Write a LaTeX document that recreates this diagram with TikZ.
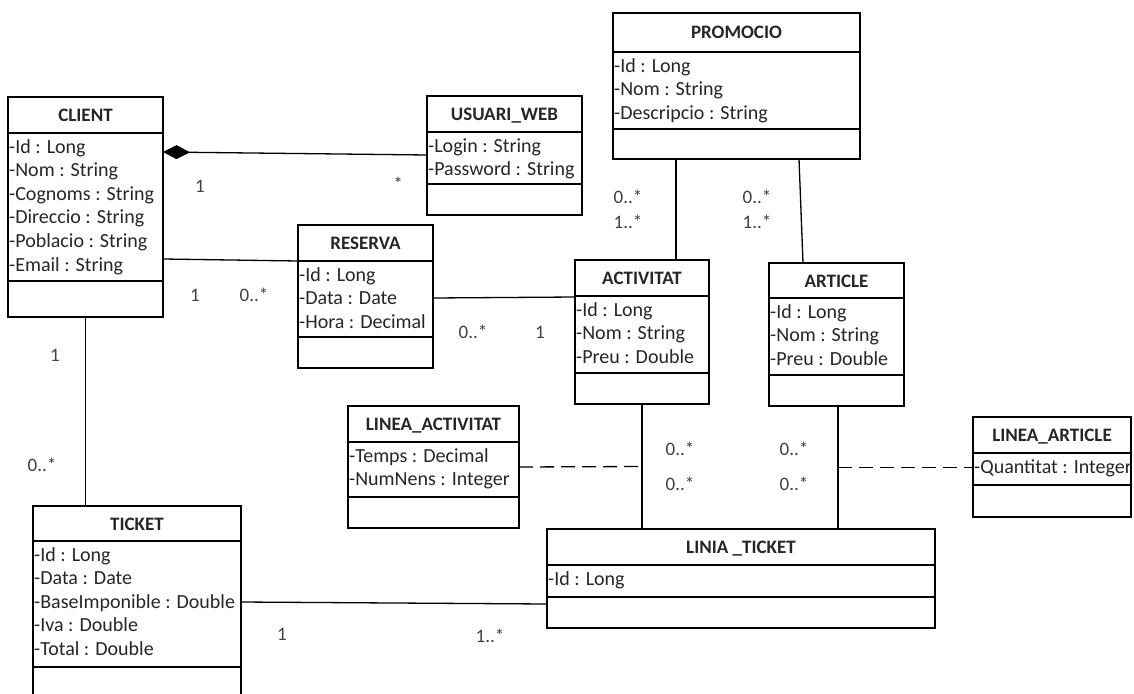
\documentclass[tikz,border=0pt]{standalone}
\usepackage{fontspec}
\setmainfont{Carlito}
\usetikzlibrary{arrows.meta,calc}
\tikzset{
  classbox/.style={draw, line width=1.4pt, inner sep=0pt, outer sep=0pt, anchor=north west},
  sepline/.style={line width=1.4pt},
  titletext/.style={font=\fontsize{19}{22}\selectfont\bfseries, inner sep=0pt, text height=13pt, text depth=0pt, text=black!85},
  attr/.style={font=\fontsize{20}{24}\selectfont, inner xsep=1pt, inner ysep=0pt, anchor=west, text height=14pt, text depth=4pt, text=black!85},
  assoc/.style={line width=1.3pt},
  mult/.style={font=\fontsize{19}{22}\selectfont, inner sep=0pt, text height=13pt, text depth=0pt, text=black!75},
  dashedlink/.style={line width=1.3pt, dash pattern=on 14pt off 7pt},
}
\newcommand{\umlclass}[9]{%
  \node[classbox, minimum width=#4pt-#2pt, minimum height=#5pt-#3pt] (#1) at (#2,#3) {};
  \draw[sepline] (#2,#6) -- (#4,#6);
  \draw[sepline] (#2,#7) -- (#4,#7);
  \node[titletext] (#1-title) at ({(#2+#4)/2},{(#3+#6)/2}) {#8};
  \foreach \a [count=\i] in {#9} {\node[attr] (#1-a\i) at (#2,{#6+15+(\i-1)*23.6}) {\a};}
}
\begin{document}
\begin{tikzpicture}[x=1pt,y=-1pt]
\useasboundingbox (0,0) rectangle (1134,693);
\clip (0,0) rectangle (1134,693);
\fill[white] (0,0) rectangle (1134,693);

\umlclass{client}{8}{97}{163}{317}{133}{281}{CLIENT}{-Id : Long,-Nom : String,-Cognoms : String,-Direccio : String,-Poblacio : String,-Email : String}
\umlclass{usuari}{427}{96}{582}{215}{132}{184}{USUARI\_WEB}{-Login : String,-Password : String}
\umlclass{promocio}{613}{13}{860}{159}{52}{129}{PROMOCIO}{-Id : Long,-Nom : String,-Descripcio : String}
\umlclass{reserva}{298}{225}{433}{368}{261}{337}{RESERVA}{-Id : Long,-Data : Date,-Hora : Decimal}
\umlclass{activitat}{575}{260}{709}{404}{296}{373}{ACTIVITAT}{-Id : Long,-Nom : String,-Preu : Double}
\umlclass{article}{769}{263}{904}{406}{298}{375}{ARTICLE}{-Id : Long,-Nom : String,-Preu : Double}
\umlclass{lineaact}{348}{406}{519}{528}{442}{497}{LINEA\_ACTIVITAT}{-Temps : Decimal,-NumNens : Integer}
\umlclass{lineaart}{973}{417}{1131}{517}{453}{485}{LINEA\_ARTICLE}{-Quantitat : Integer}
\umlclass{ticket}{33}{506}{241}{720}{541}{667}{TICKET}{-Id : Long,-Data : Date,-BaseImponible : Double,-Iva : Double,-Total : Double}
\umlclass{linia}{547}{529}{935}{628}{565}{597}{LINIA \_TICKET}{-Id : Long}

% connectors
\draw[assoc, {Diamond[length=27pt,width=14pt]}-] ([yshift=-55pt]client.north east) -- ([yshift=-59pt]usuari.north west);
\draw[assoc] ([yshift=-162pt]client.north east) -- ([yshift=-36pt]reserva.north west);
\draw[assoc] ([yshift=-73pt]reserva.north east) -- ([yshift=-37pt]activitat.north west);
\draw[assoc] (client.south) -- (client.south |- ticket.north);
\draw[assoc] ([yshift=-96pt]ticket.north east) -- ([yshift=-75pt]linia.north west);
\draw[assoc] ([xshift=101pt]activitat.north west) -- ([xshift=101pt]activitat.north west |- promocio.south);
\draw[assoc] ([xshift=186pt]promocio.south west) -- ([xshift=34pt]article.north west);
\draw[assoc] (activitat.south) -- (activitat.south |- linia.north);
\draw[assoc] ([xshift=69pt]article.south west) -- ([xshift=69pt]article.south west |- linia.north);
\coordinate (actmid) at ($(activitat.south)!0.5!(activitat.south |- linia.north)$);
\coordinate (artmid) at ($([xshift=69pt]article.south west)!0.5!([xshift=69pt]article.south west |- linia.north)$);
\draw[dashedlink] (lineaact.east) -- (actmid);
\draw[dashedlink] (artmid) -- (lineaart.west |- artmid);

% multiplicities
\node[mult] (m1) at (200,186) {1};
\node[mult] (m2) at (398,184) {*};
\node[mult] (m3) at (195,295) {1};
\node[mult] (m4) at (254,295) {0..*};
\node[mult] (m5) at (473,332) {0..*};
\node[mult] (m6) at (540,332) {1};
\node[mult] (m7) at (55,355) {1};
\node[mult] (m8) at (42,465) {0..*};
\node[mult] (m9) at (628,197) {0..*};
\node[mult] (m10) at (628,222) {1..*};
\node[mult] (m11) at (757,197) {0..*};
\node[mult] (m12) at (757,222) {1..*};
\node[mult] (m13) at (680,449) {0..*};
\node[mult] (m14) at (680,484) {0..*};
\node[mult] (m15) at (794,449) {0..*};
\node[mult] (m16) at (794,484) {0..*};
\node[mult] (m17) at (282,634) {1};
\node[mult] (m18) at (490,636) {1..*};
\end{tikzpicture}
\end{document}
